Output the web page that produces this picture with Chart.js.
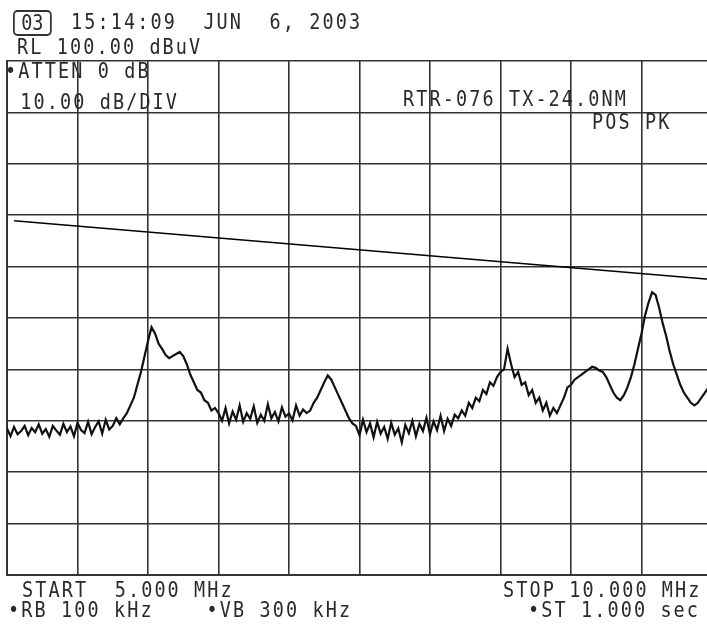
<!DOCTYPE html>
<html>
<head>
<meta charset="utf-8">
<script src="https://cdn.jsdelivr.net/npm/chart.js@4"></script>
<style>
  html, body { margin: 0; padding: 0; background: #fff; overflow: hidden; }
  #wrap { position: relative; width: 707px; height: 625px; overflow: hidden; }
  #chart { position: absolute; left: 0; top: 0; }
  .t {
    position: absolute; white-space: pre; color: #2a2a2a;
    font: 21px 'DejaVu Sans Mono', monospace; line-height: 21px; letter-spacing: 2.4px;
    transform: scaleX(0.88); transform-origin: 0 0;
  }
  .box { border: 2px solid #333; border-radius: 5px; width: 40px; height: 22px; text-align: center; letter-spacing: 0; }
</style>
</head>
<body>
<div id="wrap">
  <canvas id="chart" width="720" height="625"></canvas>
  <div class="t box" style="left:13px;top:10px;line-height:22px;">03</div>
  <div class="t" style="left:71px;top:12px;">15:14:09  JUN  6, 2003</div>
  <div class="t" style="left:17px;top:37px;">RL 100.00 dBuV</div>
  <div class="t" style="left:5px;top:61px;">•ATTEN 0 dB</div>
  <div class="t" style="left:7px;top:92px;"> 10.00 dB/DIV</div>
  <div class="t" style="left:403px;top:89px;">RTR-076 TX-24.0NM</div>
  <div class="t" style="left:592px;top:112px;">POS PK</div>
  <div class="t" style="left:22px;top:580px;">START  5.000 MHz</div>
  <div class="t" style="left:8px;top:600px;">•RB 100 kHz    •VB 300 kHz</div>
  <div class="t" style="left:503px;top:580px;">STOP 10.000 MHz</div>
  <div class="t" style="left:528px;top:600px;">•ST 1.000 sec</div>
</div>
<script>
// sweep settings
const START_MHZ = 5.0;
const STOP_MHZ = 10.0;
const REF_LEVEL = 100;   // dBuV, top of screen
const DB_PER_DIV = 10;

// trace amplitude (dBuV), one value per 25 kHz step from START to STOP
const traceDbuv = [
  28.5, 27.0, 28.8, 27.4, 28.0, 29.0, 27.2, 28.6, 27.8, 29.3, 27.5, 28.4, 26.9, 29.0, 28.1, 27.3, 29.4,
  27.8, 28.9, 27.0, 29.6, 28.2, 27.6, 29.8, 27.4, 28.8, 29.9, 27.5, 30.2, 28.3, 29.0, 30.5, 29.3,
  30.5, 31.5, 33.0, 34.5, 37.0, 39.5, 42.5, 45.5, 48.2, 47.0, 45.0, 44.0, 42.8, 42.2, 42.6, 43.0,
  43.4, 42.6, 41.0, 39.0, 37.5, 36.0, 35.5, 34.0, 33.5, 32.0, 32.5, 31.5,
  30.0, 32.5, 29.5, 31.8, 30.2, 33.0, 29.8, 31.5, 30.4, 32.8, 29.6, 31.2, 30.0, 33.2, 30.5, 31.7,
  29.9, 32.6, 30.8, 31.4, 30.1, 33.0, 31.0, 32.2, 31.5,
  32.0, 33.5, 34.5, 36.0, 37.5, 38.8, 38.0, 36.5, 35.0, 33.5, 32.0, 30.5, 29.5,
  29.0, 27.2, 30.2, 27.8, 29.5, 26.8, 29.8, 27.5, 28.8, 26.5, 29.6, 27.3, 28.5, 25.8, 29.2, 27.6,
  30.0, 27.0, 29.4, 28.0, 30.6, 27.4, 29.9, 28.2, 31.0, 28.0, 30.4, 29.0, 31.2,
  30.5, 32.0, 31.0, 33.5, 32.5, 34.5, 33.8, 36.0, 35.2, 37.5, 36.8, 38.5, 39.5, 40.0,
  44.0,
  41.0, 38.5, 39.5, 37.0, 37.5, 35.0, 36.0, 33.5, 34.5, 32.0, 33.5, 31.0, 32.5, 31.5, 33.0,
  34.5, 36.5, 37.0, 38.0, 38.5, 39.0, 39.5, 40.0, 40.5, 40.3, 39.8, 39.5, 38.5, 37.0, 35.5, 34.5,
  34.0, 35.0, 36.5, 38.5, 41.0, 44.0, 47.0, 50.5, 53.0, 55.0, 54.5, 52.0, 49.0, 46.5, 43.5, 41.0,
  39.0, 37.0, 35.5, 34.5, 33.5, 33.0, 33.5, 34.5, 35.5, 36.5, 37.5
];

// limit line end points
const limitMhz = [5.05, 10.0];
const limitDbuv = [68.9, 57.5];

const step = (STOP_MHZ - START_MHZ) / (traceDbuv.length - 1);
const tracePts = traceDbuv.map((v, i) => ({ x: START_MHZ + i * step, y: v }));
const limitPts = limitMhz.map((f, i) => ({ x: f, y: limitDbuv[i] }));

const gridColor = '#333';

new Chart(document.getElementById('chart'), {
  type: 'line',
  data: {
    datasets: [
      { data: limitPts, borderColor: '#000', borderWidth: 1.5, pointRadius: 0, tension: 0 },
      { data: tracePts, borderColor: '#111', borderWidth: 2.2, pointRadius: 0, tension: 0 }
    ]
  },
  options: {
    responsive: false,
    animation: false,
    layout: { padding: { left: 7, top: 61, right: 8, bottom: 50 } },
    plugins: { legend: { display: false }, tooltip: { enabled: false } },
    scales: {
      x: {
        type: 'linear', min: START_MHZ, max: STOP_MHZ,
        ticks: { display: false, stepSize: 0.5 },
        grid: { color: gridColor, lineWidth: 1.6, drawTicks: false },
        border: { color: gridColor, width: 2 }
      },
      y: {
        min: REF_LEVEL - 10 * DB_PER_DIV, max: REF_LEVEL,
        ticks: { display: false, stepSize: DB_PER_DIV },
        grid: { color: gridColor, lineWidth: 1.6, drawTicks: false },
        border: { color: gridColor, width: 2 }
      }
    }
  }
});
</script>
</body>
</html>
